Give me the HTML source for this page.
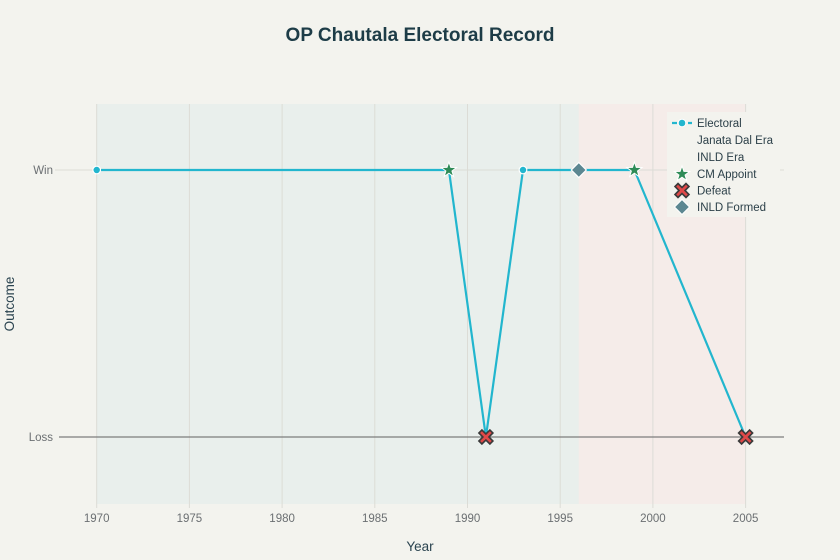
<!DOCTYPE html>
<html><head><meta charset="utf-8"><style>
html,body{margin:0;padding:0;background:#f3f3ee;}
svg{display:block;font-family:"Liberation Sans",Arial,sans-serif;}
</style></head><body>
<svg width="840" height="560" viewBox="0 0 840 560" xmlns="http://www.w3.org/2000/svg">
<rect x="0" y="0" width="840" height="560" fill="#f3f3ee"/>
<!-- shaded eras -->
<rect x="96.7" y="104" width="482.1" height="400" fill="#e9efec"/>
<rect x="578.8" y="104" width="166.8" height="400" fill="#f5ece9"/>
<!-- vertical grid -->
<g stroke="#dcdcd6" stroke-width="1">
<line x1="96.7" y1="104" x2="96.7" y2="508"/>
<line x1="189.4" y1="104" x2="189.4" y2="508"/>
<line x1="282.1" y1="104" x2="282.1" y2="508"/>
<line x1="374.8" y1="104" x2="374.8" y2="508"/>
<line x1="467.5" y1="104" x2="467.5" y2="508"/>
<line x1="560.2" y1="104" x2="560.2" y2="508"/>
<line x1="652.9" y1="104" x2="652.9" y2="508"/>
<line x1="745.6" y1="104" x2="745.6" y2="508"/>
</g>
<!-- horizontal grid -->
<line x1="55" y1="170" x2="784" y2="170" stroke="#dcdcd6" stroke-width="1"/>
<line x1="59" y1="437" x2="784" y2="437" stroke="#7d7d7d" stroke-width="1.3"/>
<!-- tick labels -->
<g fill="#6b6f72" font-size="11.5" text-anchor="middle">
<text x="96.7" y="522">1970</text>
<text x="189.4" y="522">1975</text>
<text x="282.1" y="522">1980</text>
<text x="374.8" y="522">1985</text>
<text x="467.5" y="522">1990</text>
<text x="560.2" y="522">1995</text>
<text x="652.9" y="522">2000</text>
<text x="745.6" y="522">2005</text>
</g>
<g fill="#6b6f72" font-size="11.5" text-anchor="end">
<text x="53" y="174">Win</text>
<text x="53" y="441">Loss</text>
</g>
<text x="420" y="551" fill="#2b4450" font-size="13.5" text-anchor="middle">Year</text>
<text transform="translate(14,304) rotate(-90)" fill="#2b4450" font-size="13.5" text-anchor="middle">Outcome</text>
<text x="420" y="41" fill="#1d3c47" font-size="19" font-weight="bold" text-anchor="middle">OP Chautala Electoral Record</text>
<!-- Electoral line -->
<polyline points="96.7,170 448.9,170 485.9,437 523,170 578.8,170 634.4,170 745.6,437" fill="none" stroke="#22b6ce" stroke-width="2.2" stroke-linejoin="round"/>
<circle cx="96.7" cy="170" r="3.8" fill="#22b6ce" stroke="#fff" stroke-width="1.2"/>
<circle cx="523" cy="170" r="3.8" fill="#22b6ce" stroke="#fff" stroke-width="1.2"/>
<defs>
<polygon id="star" points="0,-8 1.9,-2.6 7.6,-2.5 3.05,1 4.7,6.5 0,3.2 -4.7,6.5 -3.05,1 -7.6,-2.5 -1.9,-2.6"/>
<path id="xm" d="M-4,-7 L0,-3 L4,-7 L7,-4 L3,0 L7,4 L4,7 L0,3 L-4,7 L-7,4 L-3,0 L-7,-4 Z"/>
<polygon id="dia" points="0,-7.5 7.5,0 0,7.5 -7.5,0"/>
</defs>
<use href="#star" x="448.9" y="170" fill="#2e8b57" stroke="#fff" stroke-width="1"/>
<use href="#star" x="634.4" y="170" fill="#2e8b57" stroke="#fff" stroke-width="1"/>
<use href="#xm" x="485.9" y="437" fill="#e04848" stroke="#3a3a3a" stroke-width="1.6"/>
<use href="#xm" x="745.6" y="437" fill="#e04848" stroke="#3a3a3a" stroke-width="1.6"/>
<use href="#dia" x="578.8" y="170" fill="#5c8791" stroke="#fff" stroke-width="1.2"/>
<!-- legend -->
<rect x="667" y="112" width="113" height="105" fill="#f3f3ee"/>
<line x1="672" y1="123" x2="692" y2="123" stroke="#22b6ce" stroke-width="2.2" stroke-dasharray="5,3"/>
<circle cx="682" cy="123" r="3.8" fill="#22b6ce" stroke="#fff" stroke-width="1"/>
<use href="#star" x="682" y="174" fill="#2e8b57" stroke="#fff" stroke-width="1"/>
<use href="#xm" x="682" y="190.5" fill="#e04848" stroke="#3a3a3a" stroke-width="1.6"/>
<use href="#dia" x="682" y="207" fill="#5c8791" stroke="#fff" stroke-width="1"/>
<g fill="#2b3f48" font-size="11.5">
<text x="697" y="127">Electoral</text>
<text x="697" y="144">Janata Dal Era</text>
<text x="697" y="161">INLD Era</text>
<text x="697" y="178">CM Appoint</text>
<text x="697" y="194.5">Defeat</text>
<text x="697" y="211">INLD Formed</text>
</g>
</svg>
</body></html>
